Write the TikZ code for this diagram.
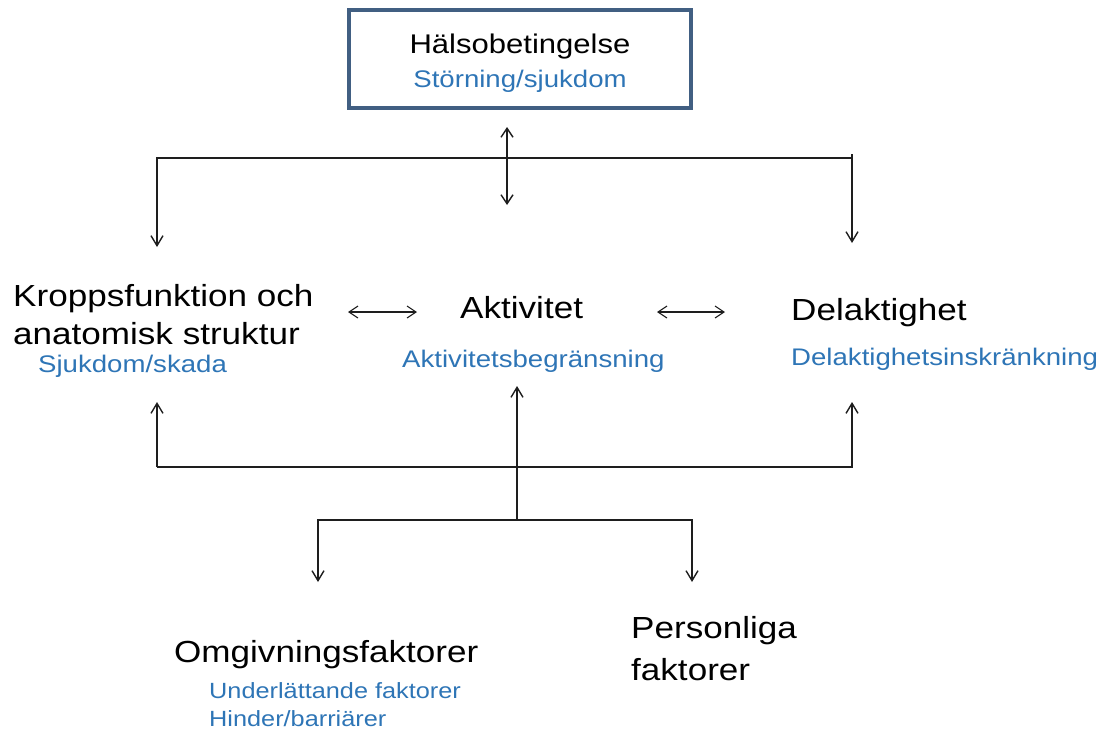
\documentclass[tikz,border=0pt]{standalone}
\usepackage{fontspec}
\setmainfont{Liberation Sans}[FakeStretch=1.15]
\usetikzlibrary{arrows.meta}
\definecolor{c0}{RGB}{65,95,130}
\definecolor{c1}{RGB}{46,117,182}
\definecolor{c2}{RGB}{30,30,30}
\tikzset{%
  head/.style={inner sep=0pt,anchor=base west,align=left,
    font=\fontsize{30.5}{38}\selectfont},
  sub/.style={inner sep=0pt,anchor=base west,align=left,text=c1,
    font=\fontsize{24}{28}\selectfont},
  hbox/.style={draw=c0,line width=4pt,minimum width=342pt,
    minimum height=98pt,outer sep=0pt,inner sep=0pt},
  arr/.style={draw=c2,line width=1.4pt,-{Straight Barb[length=10pt,width=12pt]}},
  dblarr/.style={draw=c2,line width=#1,
    {Straight Barb[length=9pt,width=12pt]}-{Straight Barb[length=9pt,width=12pt]}},
  dblarr/.default=1.1pt
}

\begin{document}
\begin{tikzpicture}[x=1pt,y=-1pt]
  \useasboundingbox (0,0) rectangle (1110,737);
  % Health condition
  \node[hbox] (hals) at (520,59) {};
  \node[head,anchor=base,font=\fontsize{27}{32}\selectfont] (halsA) at (520,53) {Hälsobetingelse};
  \node[sub,anchor=base] (halsB) at (520,87) {Störning/sjukdom};
  % Components (multi-line nodes sit on their last baseline)
  \node[head] (kropp) at (13,344) {Kroppsfunktion och\\anatomisk struktur};
  \node[sub] (kroppS) at (38,372) {Sjukdom/skada};
  \node[head] (akt) at (460,318) {Aktivitet};
  \node[sub] (aktS) at (402,367) {Aktivitetsbegränsning};
  \node[head] (del) at (791,320) {Delaktighet};
  \node[sub] (delS) at (791,365) {Delaktighetsinskränkning};
  % Context
  \node[head] (omg) at (174,662) {Omgivningsfaktorer};
  \node[sub,font=\fontsize{22}{28}\selectfont] (omgS) at (209,726) {Underlättande faktorer\\Hinder/barriärer};
  \node[head,font=\fontsize{30.5}{42}\selectfont] (pers) at (631,680) {Personliga\\faktorer};
  % Upper bar
  \coordinate (tl) at (157,158);
  \coordinate (tr) at (852,154);
  \coordinate (kt) at (157,247);
  \coordinate (dt) at (852,243);
  \coordinate (ct) at (507,127);
  \coordinate (cb) at (507,205);
  \draw[arr] (tr) -- (dt);
  \draw[arr] (tr |- tl) -- (tl) -- (kt);
  \draw[dblarr=1.4pt] (ct) -- (cb);
  % Middle links
  \coordinate (kaL) at (348,312);
  \coordinate (kaR) at (417,312);
  \coordinate (adL) at (657,312);
  \coordinate (adR) at (725,312);
  \draw[dblarr] (kaL) -- (kaR);
  \draw[dblarr] (adL) -- (adR);
  % Lower bars
  \coordinate (bl) at (157,467);
  \coordinate (br) at (852,467);
  \coordinate (kb) at (157,402);
  \coordinate (db) at (852,402);
  \coordinate (ms) at (517,520);
  \coordinate (at) at (517,386);
  \coordinate (ll) at (318,520);
  \coordinate (lr) at (692,520);
  \coordinate (ot) at (318,582);
  \coordinate (pt) at (692,582);
  \draw[arr] (bl) -- (kb);
  \draw[arr] (bl) -- (br) -- (db);
  \draw[arr] (ms) -- (at);
  \draw[arr] (ms) -- (ll) -- (ot);
  \draw[arr] (ms) -- (lr) -- (pt);
\end{tikzpicture}
\end{document}
